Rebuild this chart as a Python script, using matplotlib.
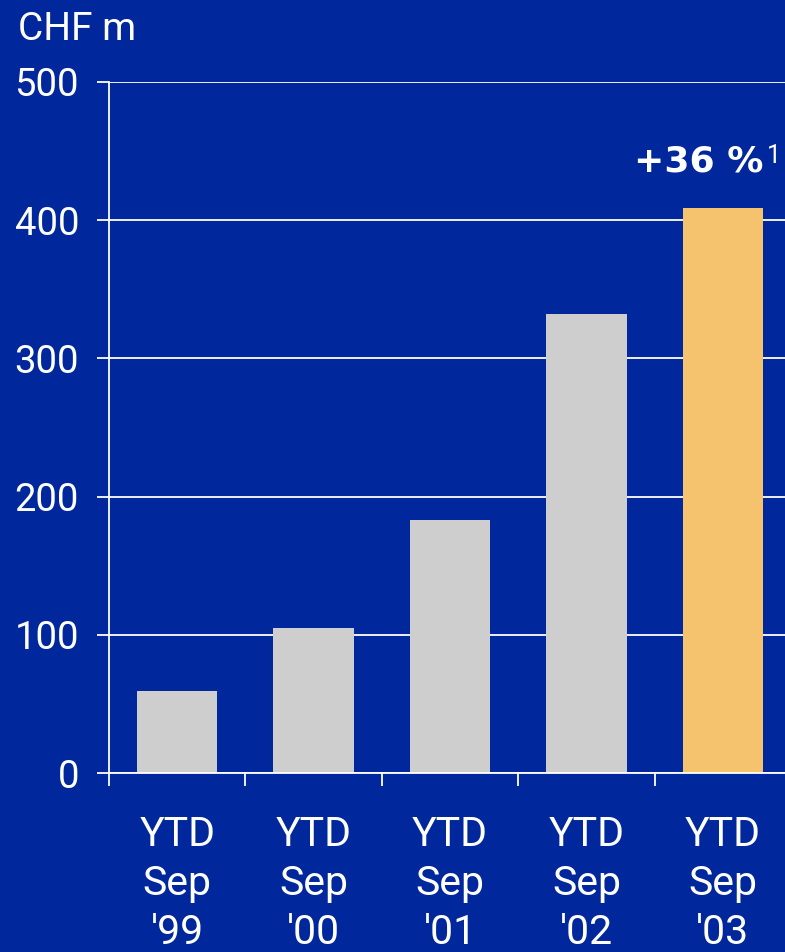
import matplotlib
matplotlib.use("Agg")
import matplotlib.pyplot as plt
import numpy as np

# Net new money, year-to-date September
categories = ["YTD\nSep\n'99", "YTD\nSep\n'00", "YTD\nSep\n'01", "YTD\nSep\n'02", "YTD\nSep\n'03"]
values = [59, 105, 183, 332, 409]
growth_label = "+36 %"
growth_note = "1"
y_ticks = [0, 100, 200, 300, 400, 500]
unit_label = "CHF m"

BG = "#00289C"
GREY = "#CECECE"
GOLD = "#F5C36E"
WHITE = "white"

plt.rcParams["font.family"] = ["Roboto", "DejaVu Sans"]

fig = plt.figure(figsize=(7.85, 9.52), dpi=100, facecolor=BG)
ax = fig.add_axes([0.1389, 0.188, 0.8687, 0.7259])
ax.set_facecolor(BG)

x = np.arange(len(values))
colors = [GREY] * (len(values) - 1) + [GOLD]
bar_w = 0.59
ax.bar(x, values, width=bar_w, color=colors, zorder=3)

ax.set_xlim(-0.5, len(values) - 0.5)
ax.set_ylim(0, 500)

# horizontal grid behind the bars
ax.set_yticks(y_ticks)
ax.yaxis.grid(True, color=WHITE, linewidth=1.3, zorder=0)
ax.set_axisbelow(True)
ax.set_yticklabels([str(v) for v in y_ticks])
ax.tick_params(axis="y", colors=WHITE, labelcolor=WHITE, labelsize=27.5,
               length=8.6, width=1.3, pad=13)

# category boundaries as ticks, labels centred under each bar
ax.set_xticks(np.arange(-0.5, len(values) + 0.5, 1.0))
ax.set_xticklabels([])
ax.tick_params(axis="x", which="major", colors=WHITE, length=9.5, width=1.3, direction="out")
ax.set_xticks(x, minor=True)
ax.set_xticklabels(categories, minor=True, fontsize=29.5, color=WHITE, linespacing=1.33)
ax.tick_params(axis="x", which="minor", length=0, pad=30)

for side in ("top", "right"):
    ax.spines[side].set_visible(False)
for side in ("left", "bottom"):
    ax.spines[side].set_color(WHITE)
    ax.spines[side].set_linewidth(1.3)
ax.spines["bottom"].set_zorder(4)

# unit label above the axis
fig.text(18 / 785, 1 - 40 / 952, unit_label, color=WHITE, fontsize=28,
         ha="left", va="baseline")

# growth annotation over the last bar
right_edge = x[-1] + bar_w / 2
ax.text(right_edge, 435, growth_label, color=WHITE, fontsize=26, fontweight="bold",
        family=["DejaVu Sans"], ha="right", va="baseline")
ax.annotate(growth_note, xy=(right_edge, 435), xytext=(3, 6.5), textcoords="offset points",
            color=WHITE, fontsize=18, ha="left", va="baseline")

fig.savefig("out.png", dpi=100, facecolor=BG)
